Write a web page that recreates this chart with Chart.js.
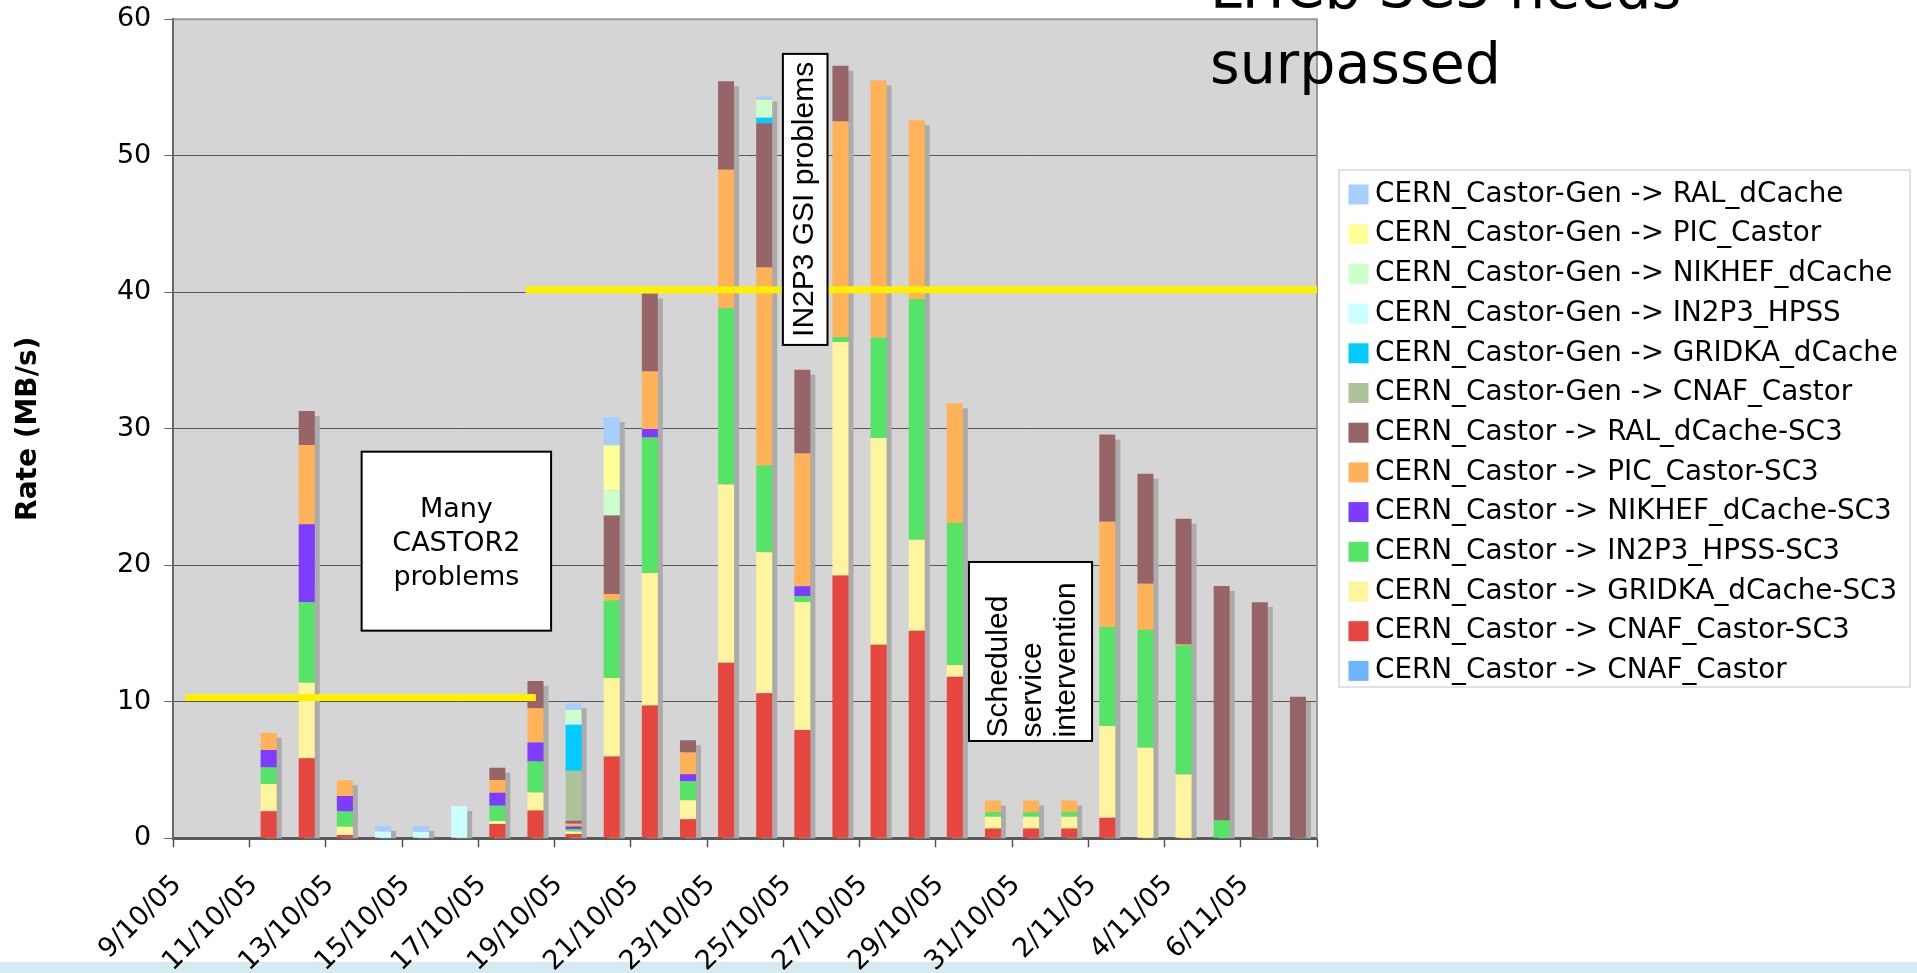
<!DOCTYPE html>
<html>
<head>
<meta charset="utf-8">
<script src="https://cdn.jsdelivr.net/npm/chart.js@4.4.1/dist/chart.umd.min.js"></script>
<style>
html,body{margin:0;padding:0;background:#fff;overflow:hidden;}
#wrap{position:relative;width:1917px;height:973px;}
#band{position:absolute;left:0;right:0;bottom:0;height:11px;background:#D6EAF1;}
canvas{position:absolute;left:0;top:0;}
</style>
</head>
<body>
<div id="wrap"><div id="band"></div><canvas id="c" width="1917" height="973"></canvas></div>
<script>
// ---------------- data ----------------
const categories = ['9/10/05','10/10/05','11/10/05','12/10/05','13/10/05','14/10/05','15/10/05','16/10/05','17/10/05','18/10/05',
  '19/10/05','20/10/05','21/10/05','22/10/05','23/10/05','24/10/05','25/10/05','26/10/05','27/10/05','28/10/05',
  '29/10/05','30/10/05','31/10/05','1/11/05','2/11/05','3/11/05','4/11/05','5/11/05','6/11/05','7/11/05'];

const yTicks = [0, 10, 20, 30, 40, 50, 60];

// stacking order: bottom first
const castorCnaf      = [0,0,0,0,0,0,0,0,0,0, 0,0,0,0,0,0,0,0,0,0, 0,0,0,0,0,0,0,0,0,0];
const castorCnafSC3   = [0,0,1.98,5.86,0.24,0,0,0,1.05,2.03, 0.32,5.99,9.72,1.39,12.86,10.63,7.94,19.25,14.17,15.2, 11.83,0.71,0.71,0.71,1.51,0,0,0,0,0];
const castorGridkaSC3 = [0,0,2.0,5.54,0.61,0,0,0,0.22,1.32, 0.17,5.75,9.72,1.39,13.06,10.32,9.37,17.1,15.16,6.67, 0.87,0.87,0.87,0.87,6.71,6.63,4.68,0,0,0];
const castorIn2p3SC3  = [0,0,1.2,5.89,1.12,0,0,0,1.12,2.27, 0.2,5.67,9.92,1.39,12.9,6.35,0.44,0.36,7.34,17.62, 10.4,0.32,0.32,0.32,7.26,8.65,9.44,1.31,0,0];
const castorNikhefSC3 = [0,0,1.29,5.71,1.12,0,0,0,0.95,1.39, 0.17,0,0.63,0.52,0,0,0.71,0,0,0, 0,0,0,0,0,0,0,0,0,0];
const castorPicSC3    = [0,0,1.27,5.81,1.17,0,0,0,0.93,2.52, 0.2,0.48,4.21,1.59,10.16,14.52,9.72,15.79,18.85,13.1, 8.77,0.87,0.87,0.87,7.7,3.37,0.08,0,0,0];
const castorRalSC3    = [0,0,0,2.49,0,0,0,0,0.9,2.0, 0.22,5.75,5.71,0.91,6.47,10.56,6.15,4.09,0,0, 0,0,0,0,6.39,8.06,9.21,17.18,17.3,10.36];
const genCnaf         = [0,0,0,0,0,0,0,0,0,0, 3.66,0,0,0,0,0,0,0,0,0, 0,0,0,0,0,0,0,0,0,0];
const genGridka       = [0,0,0,0,0,0,0,0,0,0, 3.37,0,0,0,0,0.4,0,0,0,0, 0,0,0,0,0,0,0,0,0,0];
const genIn2p3        = [0,0,0,0,0,0.49,0.46,2.37,0,0, 0.24,0,0,0,0,0,0,0,0,0, 0,0,0,0,0,0,0,0,0,0];
const genNikhef       = [0,0,0,0,0,0,0,0,0,0, 0.85,1.83,0,0,0,1.2,0,0,0,0, 0,0,0,0,0,0,0,0,0,0];
const genPic          = [0,0,0,0,0,0,0,0,0,0, 0,3.33,0,0,0,0.1,0,0,0,0, 0,0,0,0,0,0,0,0,0,0];
const genRal          = [0,0,0,0,0,0.42,0.44,0,0,0, 0.49,2.06,0,0,0,0.25,0,0,0,0, 0,0,0,0,0,0,0,0,0,0];

const seriesLabels = [
  'CERN_Castor -> CNAF_Castor',
  'CERN_Castor -> CNAF_Castor-SC3',
  'CERN_Castor -> GRIDKA_dCache-SC3',
  'CERN_Castor -> IN2P3_HPSS-SC3',
  'CERN_Castor -> NIKHEF_dCache-SC3',
  'CERN_Castor -> PIC_Castor-SC3',
  'CERN_Castor -> RAL_dCache-SC3',
  'CERN_Castor-Gen -> CNAF_Castor',
  'CERN_Castor-Gen -> GRIDKA_dCache',
  'CERN_Castor-Gen -> IN2P3_HPSS',
  'CERN_Castor-Gen -> NIKHEF_dCache',
  'CERN_Castor-Gen -> PIC_Castor',
  'CERN_Castor-Gen -> RAL_dCache'
];
const seriesValues = [castorCnaf, castorCnafSC3, castorGridkaSC3, castorIn2p3SC3, castorNikhefSC3, castorPicSC3, castorRalSC3,
  genCnaf, genGridka, genIn2p3, genNikhef, genPic, genRal];

// ---------------- styles ----------------
const seriesColors = ['#6DB6FF','#E5463F','#FFF59E','#55E468','#7D3CFF','#FFB257','#976468',
  '#ACC39C','#00CCFF','#CCFFFF','#CCFFCC','#FFFF99','#A6CEFF'];
const PLOT_BG = '#D5D5D5';
const SHADOW = '#ABABAB';
const SANS = '"DejaVu Sans", Verdana, sans-serif';
const NARROW = '"Liberation Sans", Arial, sans-serif';

// annotations (in data units: category index / MB/s)
const notes = {
  lines: [
    {from: -0.18, to: 9.01, value: 10.32},
    {from: 8.74, to: 29.5, value: 40.19}
  ],
  castorBox: {x0: 4.44, x1: 9.41, yTop: 28.32, yBot: 15.21, text: ['Many', 'CASTOR2', 'problems']},
  gsiBox: {x0: 15.49, x1: 16.66, yTop: 57.46, yBot: 36.14, text: 'IN2P3 GSI problems'},
  schedBox: {x0: 20.37, x1: 23.6, yTop: 20.24, yBot: 7.13, text: ['Scheduled', 'service', 'intervention']}
};

const decor = {
  id: 'decor',
  beforeDraw(chart) {
    const {ctx, chartArea: a} = chart;
    ctx.save();
    ctx.fillStyle = PLOT_BG;
    ctx.fillRect(a.left, a.top, a.right - a.left, a.bottom - a.top);
    ctx.restore();
  },
  beforeDatasetsDraw(chart) {
    const {ctx} = chart;
    const xs = chart.scales.x, ys = chart.scales.y;
    const meta0 = chart.getDatasetMeta(0);
    ctx.save();
    ctx.fillStyle = SHADOW;
    categories.forEach((c, i) => {
      let total = 0;
      chart.data.datasets.forEach(ds => { total += ds.data[i] || 0; });
      if (total <= 0) return;
      const w = meta0.data[i].width;
      const xc = xs.getPixelForValue(i);
      const top = ys.getPixelForValue(total);
      const base = ys.getPixelForValue(0);
      ctx.fillRect(xc - w / 2 + 5, top + 5, w, base - top - 5);
    });
    ctx.restore();
  },
  afterDatasetsDraw(chart) {
    const {ctx, chartArea: a} = chart;
    const xs = chart.scales.x, ys = chart.scales.y;
    ctx.save();
    // plot frame (top / right)
    ctx.strokeStyle = '#9A9A9A';
    ctx.lineWidth = 2;
    ctx.beginPath();
    ctx.moveTo(a.left, a.top); ctx.lineTo(a.right, a.top); ctx.lineTo(a.right, a.bottom);
    ctx.stroke();
    // yellow reference lines
    ctx.strokeStyle = '#FFEF00';
    ctx.lineWidth = 7;
    notes.lines.forEach(l => {
      const y = ys.getPixelForValue(l.value);
      ctx.beginPath();
      ctx.moveTo(xs.getPixelForValue(l.from), y);
      ctx.lineTo(xs.getPixelForValue(l.to), y);
      ctx.stroke();
    });
    const boxRect = b => {
      const x0 = xs.getPixelForValue(b.x0), x1 = xs.getPixelForValue(b.x1);
      const y0 = ys.getPixelForValue(b.yTop), y1 = ys.getPixelForValue(b.yBot);
      ctx.fillStyle = '#fff';
      ctx.fillRect(x0, y0, x1 - x0, y1 - y0);
      ctx.strokeStyle = '#000';
      ctx.lineWidth = 2;
      ctx.strokeRect(x0, y0, x1 - x0, y1 - y0);
      return {x0, x1, y0, y1};
    };
    // Many CASTOR2 problems
    let r = boxRect(notes.castorBox);
    ctx.fillStyle = '#000';
    ctx.font = '27px ' + SANS;
    ctx.textAlign = 'center';
    ctx.textBaseline = 'alphabetic';
    notes.castorBox.text.forEach((t, k) => ctx.fillText(t, (r.x0 + r.x1) / 2, r.y0 + 65 + k * 34));
    // IN2P3 GSI problems
    r = boxRect(notes.gsiBox);
    ctx.save();
    ctx.fillStyle = '#000';
    ctx.font = '30px ' + NARROW;
    ctx.translate(r.x1 - 14, (r.y0 + r.y1) / 2);
    ctx.rotate(-Math.PI / 2);
    ctx.textAlign = 'center';
    ctx.textBaseline = 'alphabetic';
    ctx.fillText(notes.gsiBox.text, 0, 0);
    ctx.restore();
    // Scheduled service intervention
    r = boxRect(notes.schedBox);
    ctx.fillStyle = '#000';
    ctx.font = '30px ' + NARROW;
    notes.schedBox.text.forEach((t, k) => {
      ctx.save();
      ctx.translate(r.x0 + 37.7 + k * 34, r.y1 - 3.5);
      ctx.rotate(-Math.PI / 2);
      ctx.textAlign = 'left';
      ctx.textBaseline = 'alphabetic';
      ctx.fillText(t, 0, 0);
      ctx.restore();
    });
    ctx.restore();
  },
  afterDraw(chart) {
    const {ctx} = chart;
    ctx.save();
    // legend
    const L = {left: 1339, top: 170, right: 1910, bottom: 687, firstY: 194.5, step: 39.7, swX: 1348.5, sw: 20, textX: 1375};
    ctx.fillStyle = '#fff';
    ctx.fillRect(L.left, L.top, L.right - L.left, L.bottom - L.top);
    ctx.strokeStyle = '#D8D8D8';
    ctx.lineWidth = 1.5;
    ctx.strokeRect(L.left, L.top, L.right - L.left, L.bottom - L.top);
    ctx.font = '27.8px ' + SANS;
    ctx.textAlign = 'left';
    ctx.textBaseline = 'middle';
    chart.data.datasets.slice().reverse().forEach((ds, k) => {
      const cy = L.firstY + k * L.step;
      ctx.fillStyle = ds.backgroundColor;
      ctx.fillRect(L.swX, cy - L.sw / 2, L.sw, L.sw);
      ctx.fillStyle = '#000';
      ctx.fillText(ds.label, L.textX, cy);
    });
    // slide title (partly cut off at the top)
    ctx.font = '57px "Comic Sans MS", "DejaVu Sans", sans-serif';
    ctx.textBaseline = 'alphabetic';
    ctx.fillStyle = '#000';
    ctx.fillText('LHCb SC3 needs', 1210, 8);
    ctx.fillText('surpassed', 1210, 83);
    ctx.restore();
  }
};

new Chart(document.getElementById('c'), {
  type: 'bar',
  data: {
    labels: categories,
    datasets: seriesLabels.map((lab, i) => ({
      label: lab,
      data: seriesValues[i],
      backgroundColor: seriesColors[i],
      borderWidth: 0,
      barPercentage: 0.42,
      categoryPercentage: 1.0
    }))
  },
  options: {
    responsive: false,
    animation: false,
    layout: {padding: {left: 0, top: 19.2, right: 600, bottom: 0}},
    plugins: {legend: {display: false}, tooltip: {enabled: false}, title: {display: false}},
    scales: {
      x: {
        stacked: true,
        offset: true,
        grid: {
          offset: true, drawOnChartArea: false, drawTicks: true, tickLength: 9, tickWidth: 1.5,
          tickColor: c => (c.index === undefined || c.index % 2 === 0) ? '#555' : 'rgba(0,0,0,0)'
        },
        border: {color: '#5A5A5A', width: 3},
        ticks: {
          autoSkip: false, maxRotation: 45, minRotation: 45, padding: 22, labelOffset: -15,
          color: '#000', font: {family: SANS, size: 27},
          callback(v, i) { return i % 2 === 0 ? this.getLabelForValue(v) : ''; }
        },
        afterFit(s) { s.height = 134.7; s.paddingLeft = 0; s.paddingRight = 0; }
      },
      y: {
        stacked: true,
        min: yTicks[0], max: yTicks[yTicks.length - 1],
        afterBuildTicks(s) { s.ticks = yTicks.map(v => ({value: v})); },
        ticks: {padding: 13, color: '#000', font: {family: SANS, size: 27}},
        grid: {color: '#555', lineWidth: 1, tickLength: 9, tickColor: '#666'},
        border: {color: '#666', width: 2},
        title: {display: true, text: 'Rate (MB/s)', color: '#000',
          font: {family: SANS, size: 28, weight: 'bold'}, padding: {top: 12, bottom: 0}},
        afterFit(s) { s.width = 173.3; s.paddingTop = 0; s.paddingBottom = 0; }
      }
    }
  },
  plugins: [decor]
});
</script>
</body>
</html>
